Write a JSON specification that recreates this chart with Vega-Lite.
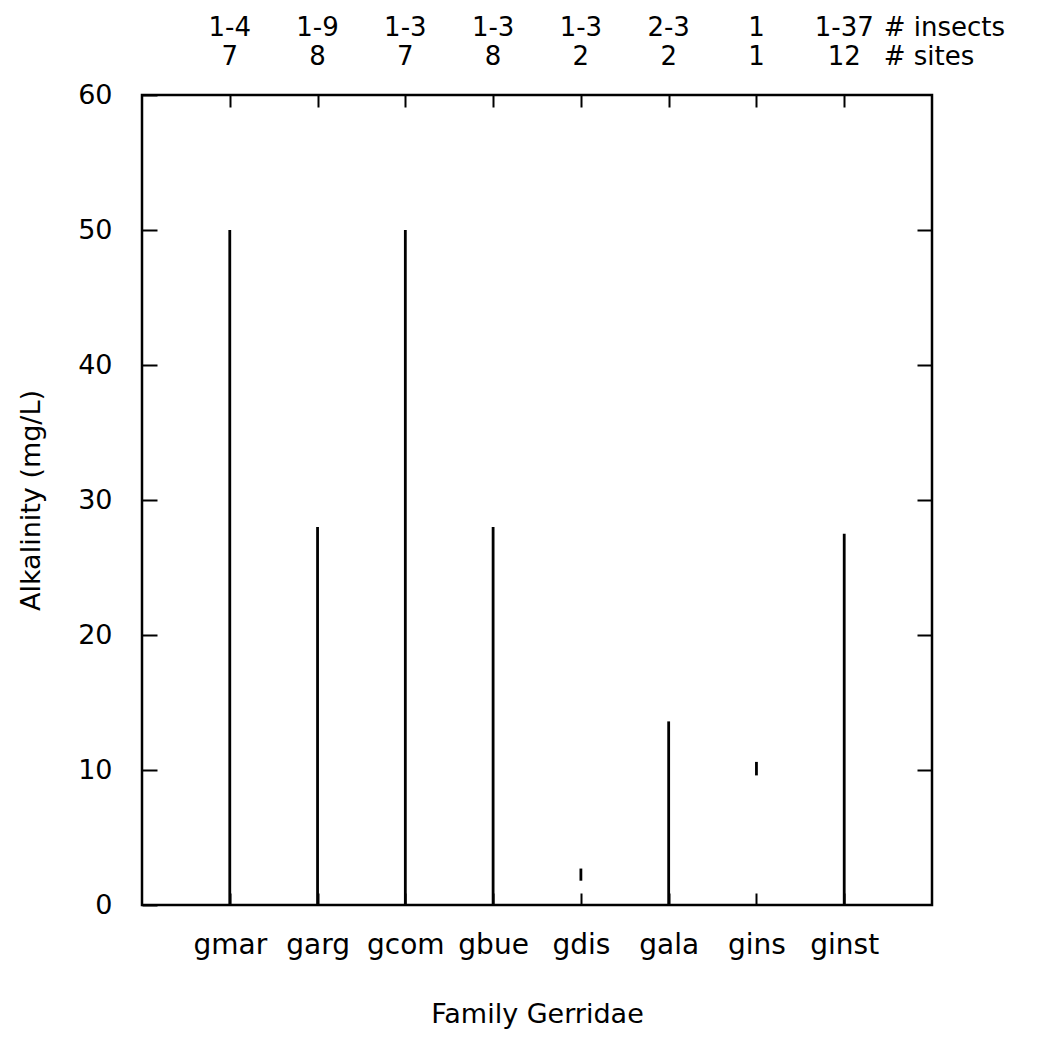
{
  "$schema": "https://vega.github.io/schema/vega-lite/v6.json",
  "width": 790,
  "height": 810,
  "autosize": {"type": "none"},
  "padding": {"left": 142, "top": 95, "right": 108, "bottom": 135},
  "background": "white",
  "config": {
    "font": "DejaVu Sans",
    "view": {"stroke": "black", "strokeWidth": 2.5},
    "axis": {
      "grid": false,
      "domain": false,
      "tickColor": "black",
      "tickWidth": 2,
      "labelColor": "black",
      "titleColor": "black",
      "labelFont": "DejaVu Sans",
      "titleFont": "DejaVu Sans",
      "titleFontWeight": "normal"
    }
  },
  "datasets": {
    "gerridae": [
      {"species": "gmar", "pos": 1, "min": 0, "max": 50, "insects": "1-4", "sites": "7"},
      {"species": "garg", "pos": 2, "min": 0, "max": 28, "insects": "1-9", "sites": "8"},
      {"species": "gcom", "pos": 3, "min": 0, "max": 50, "insects": "1-3", "sites": "7"},
      {"species": "gbue", "pos": 4, "min": 0, "max": 28, "insects": "1-3", "sites": "8"},
      {"species": "gdis", "pos": 5, "min": 1.8, "max": 2.7, "insects": "1-3", "sites": "2"},
      {"species": "gala", "pos": 6, "min": 0, "max": 13.6, "insects": "2-3", "sites": "2"},
      {"species": "gins", "pos": 7, "min": 9.6, "max": 10.6, "insects": "1", "sites": "1"},
      {"species": "ginst", "pos": 8, "min": 0, "max": 27.5, "insects": "1-37", "sites": "12"}
    ],
    "headers": [
      {"pos": 8.45, "insects": "# insects", "sites": "# sites"}
    ]
  },
  "layer": [
    {
      "data": {"name": "gerridae"},
      "mark": {"type": "rule", "color": "black", "strokeWidth": 2.8},
      "encoding": {
        "x": {
          "field": "pos",
          "type": "quantitative",
          "scale": {"domain": [0, 9], "nice": false, "zero": false},
          "axis": {
            "orient": "bottom",
            "values": [1, 2, 3, 4, 5, 6, 7, 8],
            "labelExpr": "['', 'gmar', 'garg', 'gcom', 'gbue', 'gdis', 'gala', 'gins', 'ginst'][datum.value]",
            "tickSize": -12,
            "labelPadding": 38,
            "labelFontSize": 28,
            "title": "Family  Gerridae",
            "titleFontSize": 27,
            "titlePadding": 42
          }
        },
        "y": {
          "field": "min",
          "type": "quantitative",
          "scale": {"domain": [0, 60], "nice": false, "zero": true},
          "axis": {
            "orient": "left",
            "values": [0, 10, 20, 30, 40, 50, 60],
            "tickSize": -15,
            "labelPadding": 45,
            "labelFontSize": 27,
            "title": "Alkalinity (mg/L)",
            "titleFontSize": 27,
            "titlePadding": 32
          }
        },
        "y2": {"field": "max"}
      }
    },
    {
      "data": {"name": "gerridae"},
      "mark": {"type": "text", "fontSize": 26, "baseline": "middle", "align": "center", "color": "black"},
      "encoding": {
        "x": {
          "field": "pos",
          "type": "quantitative",
          "axis": {
            "orient": "top",
            "values": [1, 2, 3, 4, 5, 6, 7, 8],
            "labels": false,
            "tickSize": -12,
            "title": null
          }
        },
        "y": {
          "datum": 65.0,
          "type": "quantitative",
          "axis": {
            "orient": "right",
            "values": [10, 20, 30, 40, 50],
            "labels": false,
            "tickSize": -15,
            "title": null
          }
        },
        "text": {"field": "insects"}
      }
    },
    {
      "data": {"name": "gerridae"},
      "mark": {"type": "text", "fontSize": 26, "baseline": "middle", "align": "center", "color": "black"},
      "encoding": {
        "x": {"field": "pos", "type": "quantitative", "axis": null},
        "y": {"datum": 62.8, "type": "quantitative", "axis": null},
        "text": {"field": "sites"}
      }
    },
    {
      "data": {"name": "headers"},
      "mark": {"type": "text", "fontSize": 26, "baseline": "middle", "align": "left", "color": "black"},
      "encoding": {
        "x": {"field": "pos", "type": "quantitative", "axis": null},
        "y": {"datum": 65.0, "type": "quantitative", "axis": null},
        "text": {"field": "insects"}
      }
    },
    {
      "data": {"name": "headers"},
      "mark": {"type": "text", "fontSize": 26, "baseline": "middle", "align": "left", "color": "black"},
      "encoding": {
        "x": {"field": "pos", "type": "quantitative", "axis": null},
        "y": {"datum": 62.8, "type": "quantitative", "axis": null},
        "text": {"field": "sites"}
      }
    }
  ],
  "resolve": {"axis": {"x": "independent", "y": "independent"}}
}
